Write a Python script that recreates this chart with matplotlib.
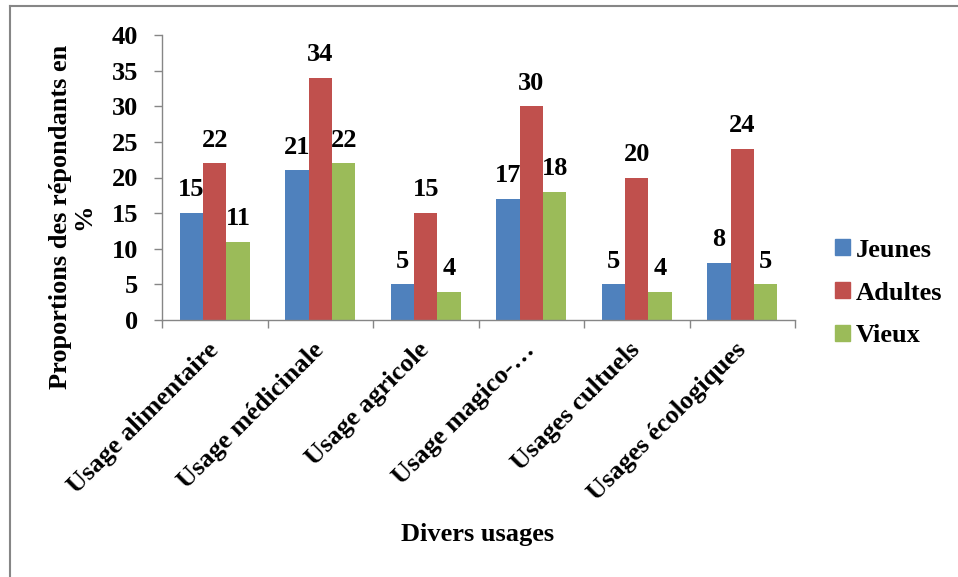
import numpy as np
import matplotlib
matplotlib.use('Agg')
import matplotlib.pyplot as plt
from matplotlib.lines import Line2D

# values
categories = ['Usage alimentaire', 'Usage médicinale', 'Usage agricole',
              'Usage magico-…', 'Usages cultuels', 'Usages écologiques']
jeunes = [15, 21, 5, 17, 5, 8]
adultes = [22, 34, 15, 30, 20, 24]
vieux = [11, 22, 4, 18, 4, 5]
series_names = ['Jeunes', 'Adultes', 'Vieux']
colors = ['#4F81BD', '#C0504D', '#9BBB59']

plt.rcParams['font.family'] = ['Liberation Serif', 'DejaVu Serif']
plt.rcParams['font.weight'] = 'bold'
FS = 19
GRAY = '#868686'

fig = plt.figure(figsize=(9.58, 5.77), dpi=100)
ax = fig.add_axes([162 / 958, 1 - 320 / 577, (795 - 162) / 958, (320 - 35) / 577])

x = np.arange(len(categories))
w = 1 / 4.5
for i, (vals, name, c) in enumerate(zip([jeunes, adultes, vieux], series_names, colors)):
    pos = x + (i - 1) * w
    ax.bar(pos, vals, width=w, color=c, label=name, edgecolor='none')
    for p, v in zip(pos, vals):
        ax.annotate(str(v), (p, v), xytext=(0, 12), textcoords='offset points',
                    ha='center', va='baseline', fontsize=FS, fontweight='bold')

ax.set_xlim(-0.5, len(categories) - 0.5)
ax.set_ylim(0, 40)
ax.set_yticks(range(0, 41, 5))
ax.tick_params(axis='y', labelsize=FS, length=6, width=1, color=GRAY, pad=11)
ax.set_xticks(x)
ax.set_xticklabels(categories, rotation=45, ha='right', va='center',
                   rotation_mode='anchor', fontsize=FS)
ax.tick_params(axis='x', which='major', length=0, pad=19)
ax.set_xticks(np.arange(-0.5, len(categories)), minor=True)
ax.tick_params(axis='x', which='minor', length=6, width=1, color=GRAY)
for s in ['top', 'right']:
    ax.spines[s].set_visible(False)
for s in ['left', 'bottom']:
    ax.spines[s].set_color(GRAY)
    ax.spines[s].set_linewidth(1)

fig.text(72 / 958, 1 - 217 / 577, 'Proportions des répondants en\n%', rotation=90,
         ha='center', va='center', multialignment='center', fontsize=FS,
         fontweight='bold', linespacing=1.0)
fig.text(478 / 958, 1 - 535 / 577, 'Divers usages', ha='center', va='center',
         fontsize=FS, fontweight='bold')

handles = [plt.Rectangle((0, 0), 1, 1, color=c) for c in colors]
fig.legend(handles, series_names, loc='center left', bbox_to_anchor=(835 / 958, 1 - 293 / 577),
           frameon=False, prop=dict(family='Liberation Serif', weight='bold', size=FS),
           handlelength=0.55, handleheight=0.55,
           handletextpad=0.25, labelspacing=0.75, borderpad=0, borderaxespad=0)

# outer frame (top and left edges only visible in the reference)
fig.add_artist(Line2D([10 / 958, 1], [1 - 6 / 577, 1 - 6 / 577], color=GRAY, lw=1.5,
                      transform=fig.transFigure))
fig.add_artist(Line2D([10 / 958, 10 / 958], [0, 1 - 6 / 577], color=GRAY, lw=1.5,
                      transform=fig.transFigure))

fig.savefig('out.png', dpi=100)
